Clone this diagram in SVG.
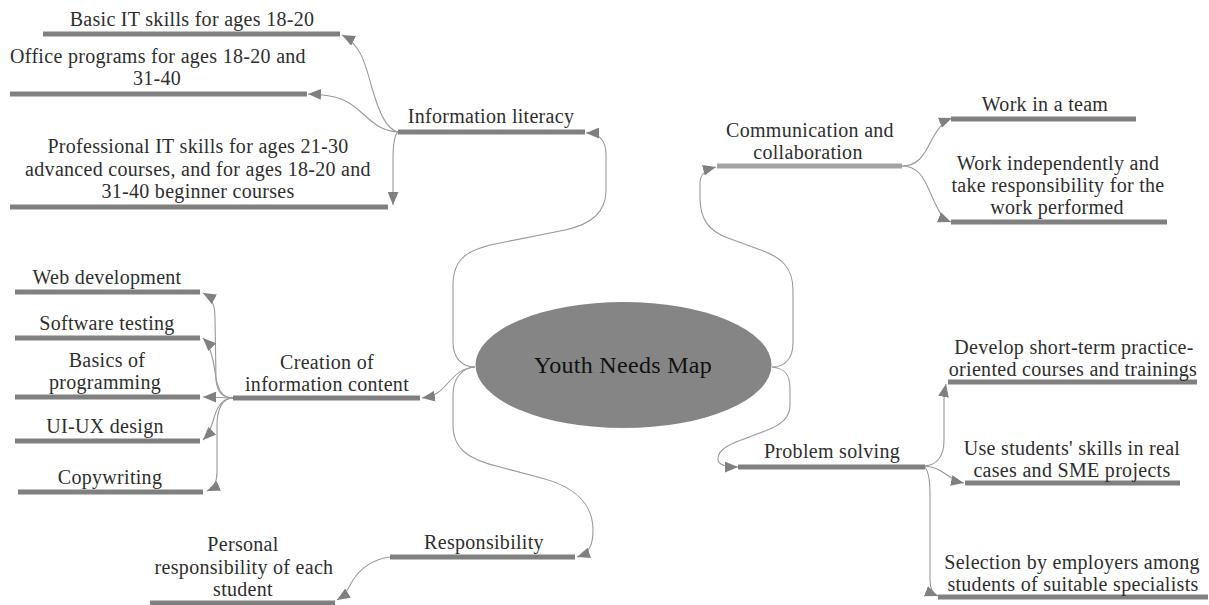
<svg xmlns="http://www.w3.org/2000/svg" width="1209" height="605" viewBox="0 0 1209 605">
<style>
text{font-family:"Liberation Serif","Times New Roman",serif;font-size:20px;fill:#2e2e2e;text-anchor:middle;letter-spacing:0.3px}
.title{font-size:24px;fill:#111}
.bar{stroke:#808080;stroke-width:5;fill:none}
.bar2{stroke:#a3a3a3;stroke-width:5;fill:none}
.c{fill:none;stroke:#9a9a9a;stroke-width:1.1;marker-end:url(#ah)}
</style>
<defs>
<marker id="ah" viewBox="0 0 12 10" refX="12" refY="5" markerWidth="13" markerHeight="11" markerUnits="userSpaceOnUse" orient="auto"><path d="M0,0 L12,5 L0,10 z" fill="#808080"/></marker>
</defs>
<rect width="1209" height="605" fill="#fff"/>
<g id="connectors">
<path class="c" d="M475,367 C461,367 453,357 453,342 L453,285 C453,258 468,249 500,243 L565,230 C592,224 606,212 606,190 L606,155 C606,141 600,133 586,133"/>
<path class="c" d="M772,367 C786,367 793,357 793,343 L793,290 C793,268 782,257 758,249 L728,238 C708,231 700,218 700,198 L700,184 C700,175 704,170 716,167"/>
<path class="c" d="M475,367 C462,368 455,375 448,383 C441,391 436,396 422,398"/>
<path class="c" d="M475,367 C462,368 453,378 453,395 L453,425 C453,450 470,460 500,467 L545,479 C577,488 593,506 593,530 C593,546 589,553 577,557"/>
<path class="c" d="M772,367 C785,368 790,375 790,388 L790,405 C790,418 781,425 765,431 L736,442 C722,448 718,453 718,459 C718,464 724,467 738,467"/>
<path class="c" d="M398,132 C386,129 379,112 372,88 C365,62 360,44 342,35"/>
<path class="c" d="M398,132 C382,131 374,124 362,113 C348,100 338,95 308,94"/>
<path class="c" d="M398,132 C394,135 393,145 393,160 L393,205"/>
<path class="c" d="M902,166 C918,166 924,155 930,143 C937,130 942,122 952,118"/>
<path class="c" d="M902,166 C918,166 924,178 930,192 C937,208 941,218 951,222"/>
<path class="c" d="M233,398 C222,398 217,392 216,380 L215,318 C215,305 212,298 203,293"/>
<path class="c" d="M233,398 C221,398 217,388 215,372 C213,357 210,345 203,338"/>
<path class="c" d="M233,398 C224,398 215,397 203,397"/>
<path class="c" d="M233,398 C222,398 217,407 214,418 C211,428 209,434 203,440"/>
<path class="c" d="M233,398 C222,398 217,410 217,425 L217,472 C217,482 214,488 207,491"/>
<path class="c" d="M923,466 C937,466 944,456 944,440 L944,400 C944,392 945,389 946,384"/>
<path class="c" d="M923,466 C936,466 942,472 950,477 C955,480 959,482 964,483"/>
<path class="c" d="M923,466 C928,468 930,480 930,495 L930,580 C930,589 933,594 938,596"/>
<path class="c" d="M390,557 C373,559 360,569 353,580 C348,589 345,595 337,600"/>
</g>
<g id="root"><ellipse cx="623.5" cy="365" rx="148" ry="63" fill="#858585"/><text class="title" x="623" y="373">Youth Needs Map</text></g>
<g id="info-literacy"><line class="bar" x1="398" y1="132" x2="585" y2="132"/><text x="491" y="123">Information literacy</text></g>
<g id="basic-it"><line class="bar" x1="43" y1="34" x2="340" y2="34"/><text x="192" y="26">Basic IT skills for ages 18-20</text></g>
<g id="office"><line class="bar" x1="10" y1="94" x2="307" y2="94"/><text x="158" y="63">Office programs for ages 18-20 and</text><text x="157" y="85">31-40</text></g>
<g id="professional"><line class="bar" x1="10" y1="207" x2="388" y2="207"/><text x="198" y="153">Professional IT skills for ages 21-30</text><text x="198" y="176">advanced courses, and for ages 18-20 and</text><text x="198" y="198">31-40 beginner courses</text></g>
<g id="communication"><line class="bar2" x1="717" y1="166" x2="902" y2="166"/><text x="810" y="137">Communication and</text><text x="808" y="159">collaboration</text></g>
<g id="team"><line class="bar" x1="951" y1="119" x2="1136" y2="119"/><text x="1045" y="111">Work in a team</text></g>
<g id="independent"><line class="bar" x1="951" y1="222" x2="1167" y2="222"/><text x="1058" y="170">Work independently and</text><text x="1058" y="192">take responsibility for the</text><text x="1057" y="214">work performed</text></g>
<g id="creation"><line class="bar" x1="233" y1="398" x2="420" y2="398"/><text x="327" y="369">Creation of</text><text x="327" y="391">information content</text></g>
<g id="web"><line class="bar" x1="15" y1="292" x2="200" y2="292"/><text x="107" y="284">Web development</text></g>
<g id="testing"><line class="bar" x1="15" y1="338" x2="200" y2="338"/><text x="107" y="330">Software testing</text></g>
<g id="basics"><line class="bar" x1="15" y1="397" x2="200" y2="397"/><text x="107" y="367">Basics of</text><text x="105" y="389">programming</text></g>
<g id="uiux"><line class="bar" x1="15" y1="441" x2="200" y2="441"/><text x="105" y="433">UI-UX design</text></g>
<g id="copy"><line class="bar" x1="18" y1="492" x2="203" y2="492"/><text x="110" y="484">Copywriting</text></g>
<g id="responsibility"><line class="bar" x1="390" y1="557" x2="575" y2="557"/><text x="484" y="549">Responsibility</text></g>
<g id="personal"><line class="bar" x1="150" y1="603" x2="335" y2="603"/><text x="243" y="551">Personal</text><text x="244" y="574">responsibility of each</text><text x="243" y="596">student</text></g>
<g id="problem"><line class="bar" x1="738" y1="467" x2="925" y2="467"/><text x="832" y="458">Problem solving</text></g>
<g id="develop"><line class="bar" x1="948" y1="382" x2="1197" y2="382"/><text x="1074" y="354">Develop short-term practice-</text><text x="1073" y="376">oriented courses and trainings</text></g>
<g id="use"><line class="bar" x1="965" y1="483" x2="1180" y2="483"/><text x="1072" y="455">Use students' skills in real</text><text x="1072" y="477">cases and SME projects</text></g>
<g id="selection"><line class="bar" x1="938" y1="597" x2="1208" y2="597"/><text x="1072" y="569">Selection by employers among</text><text x="1073" y="591">students of suitable specialists</text></g>
</svg>
